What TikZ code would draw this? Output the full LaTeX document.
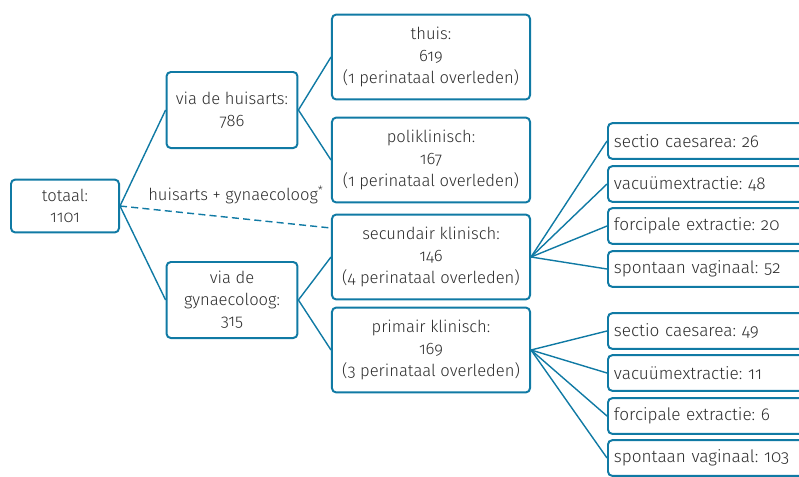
\documentclass[tikz,border=0pt]{standalone}
\usepackage{fontspec}
\IfFontExistsTF{Fira Sans Light}
  {\setmainfont{Fira Sans Light}[Numbers=OldStyle]}
  {\setmainfont{Fira Sans}[Numbers=OldStyle]}
\usetikzlibrary{calc}
\definecolor{lijn}{RGB}{16,122,164}
\definecolor{tekst}{RGB}{45,45,45}
\tikzset{
  box/.style={draw=lijn, line width=1.4pt, rounded corners=3pt, align=center,
    text=tekst, font=\fontsize{11.8}{15.4}\selectfont, inner sep=2pt},
  leaf/.style={box, anchor=west, minimum width=5cm, minimum height=0.89cm,
    text width=4.7cm, inner xsep=4pt, align=left, font=\fontsize{12.2}{15}\selectfont},
  tak/.style={draw=lijn, line width=1pt}
}
\frenchspacing
\begin{document}
\begin{tikzpicture}[x=0.025cm, y=-0.025cm]
        \useasboundingbox (0,0) rectangle (799,476);

        % Root and first level
        \node[box, minimum width=2.7cm, minimum height=1.32cm] (tot) at (65,206) {totaal:\\1101};
        \node[box, minimum width=3.27cm, minimum height=1.9cm] (ha) at (232,110) {via de huisarts:\\786};
        \node[box, minimum width=3.27cm, minimum height=1.9cm] (gyn) at (232,300) {via de\\gynaecoloog:\\315};

        % Place of birth
        \node[box, minimum width=4.95cm, minimum height=2.12cm] (thuis) at (431,57) {thuis:\\619\\(1 perinataal overleden)};
        \node[box, minimum width=4.95cm, minimum height=2.12cm] (poli) at (431,160) {poliklinisch:\\167\\(1 perinataal overleden)};
        \node[box, minimum width=4.95cm, minimum height=2.12cm] (sec) at (431,257) {secundair klinisch:\\146\\(4 perinataal overleden)};
        \node[box, minimum width=4.95cm, minimum height=2.12cm] (prim) at (431,350) {primair klinisch:\\169\\(3 perinataal overleden)};

        % Mode of delivery, secundair
        \node[leaf] (sec1) at (607,141) {sectio caesarea: 26};
        \node[leaf] (sec2) at (607,184) {vacuümextractie: 48};
        \node[leaf] (sec3) at (607,226) {forcipale extractie: 20};
        \node[leaf] (sec4) at (607,269) {spontaan vaginaal: 52};

        % Mode of delivery, primair
        \node[leaf] (prim1) at (607,331) {sectio caesarea: 49};
        \node[leaf] (prim2) at (607,373) {vacuümextractie: 11};
        \node[leaf] (prim3) at (607,416) {forcipale extractie: 6};
        \node[leaf] (prim4) at (607,458) {spontaan vaginaal: 103};

        % Connectors
        \draw[tak] (tot.east) -- (ha.west);
        \draw[tak] (tot.east) -- (gyn.west);
        \draw[tak] (ha.east) -- (thuis.west);
        \draw[tak] (ha.east) -- (poli.west);
        \draw[tak] (gyn.east) -- (sec.west);
        \draw[tak] (gyn.east) -- (prim.west);
        \foreach \i in {1,...,4} {
          \draw[tak] (sec.east) -- (sec\i.west);
          \draw[tak] (prim.east) -- (prim\i.west);
        }

        % Dashed route
        \coordinate (dashend) at ($(sec.west)+(0,-29)$);
        \draw[tak, dashed, dash pattern=on 5pt off 3pt] (tot.east) -- (dashend);
        \node[text=tekst, font=\fontsize{11.8}{14}\selectfont] (route) at (236,195) {huisarts + gynaecoloog\textsuperscript{*}};
\end{tikzpicture}
\end{document}
